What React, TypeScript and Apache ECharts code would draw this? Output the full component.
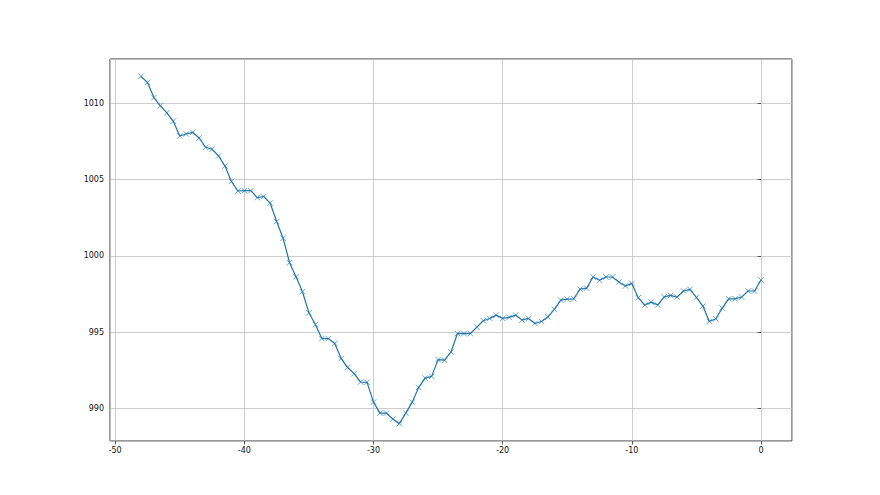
import React, { useEffect, useRef } from "react";
import * as echarts from "echarts";

const xStart = -48;
const xStep = 0.5;
const pressure = [
  1011.78, 1011.38, 1010.39, 1009.85, 1009.39, 1008.84, 1007.87, 1008.0, 1008.11, 1007.74,
  1007.13, 1007.0, 1006.56, 1005.9, 1004.89, 1004.26, 1004.28, 1004.28, 1003.83, 1003.9,
  1003.47, 1002.26, 1001.16, 999.56, 998.64, 997.65, 996.27, 995.5, 994.58, 994.58,
  994.26, 993.27, 992.68, 992.28, 991.73, 991.71, 990.41, 989.69, 989.69, 989.3,
  989.0, 989.69, 990.41, 991.38, 991.99, 992.1, 993.2, 993.16, 993.7, 994.91,
  994.91, 994.91, 995.33, 995.75, 995.9, 996.12, 995.9, 995.97, 996.12, 995.79,
  995.9, 995.57, 995.7, 996.0, 996.49, 997.1, 997.17, 997.19, 997.82, 997.89,
  998.62, 998.4, 998.62, 998.62, 998.29, 998.03, 998.2, 997.26, 996.78, 996.97,
  996.78, 997.32, 997.41, 997.3, 997.7, 997.81, 997.28, 996.71, 995.7, 995.88,
  996.58, 997.19, 997.19, 997.3, 997.7, 997.7, 998.42,
];
const xValues = pressure.map((_, i) => xStart + i * xStep);

export default function App() {
  const ref = useRef<HTMLDivElement>(null);
  useEffect(() => {
    if (!ref.current) return;
    const chart = echarts.init(ref.current, null, { renderer: "svg" });
    const data = xValues.map((x, i) => [x, pressure[i]]);
    const dataMin = Math.min(...pressure);
    const dataMax = Math.max(...pressure);
    const yPad = (dataMax - dataMin) * 0.05;
    const xMin = xValues[0];
    const xMax = xValues[xValues.length - 1];
    const xPad = (xMax - xMin) * 0.05;
    const axisColor = "#333333";
    const labelStyle = {
      color: "#111111",
      fontFamily: "DejaVu Sans",
      fontSize: 8,
      formatter: (v: number) => String(Math.round(v)),
    };
    chart.setOption({
      animation: false,
      backgroundColor: "#ffffff",
      grid: {
        left: 110,
        right: 88,
        top: 59,
        bottom: 54,
        show: true,
        borderColor: axisColor,
        borderWidth: 1,
        backgroundColor: "transparent",
      },
      xAxis: {
        type: "value",
        min: xMin - xPad,
        max: xMax + xPad,
        splitNumber: 5,
        axisLine: { show: false },
        axisTick: { show: true, length: 3.5, lineStyle: { color: axisColor, width: 0.8 } },
        axisLabel: { ...labelStyle, margin: 5, showMinLabel: false, showMaxLabel: false },
        splitLine: { show: true, lineStyle: { color: "#c2c2c2", width: 0.8 } },
      },
      yAxis: {
        type: "value",
        min: dataMin - yPad,
        max: dataMax + yPad,
        splitNumber: 5,
        axisLine: { show: false },
        axisTick: { show: true, length: 3.5, lineStyle: { color: axisColor, width: 0.8 } },
        axisLabel: { ...labelStyle, margin: 6, showMinLabel: false, showMaxLabel: false },
        splitLine: { show: true, lineStyle: { color: "#c2c2c2", width: 0.8 } },
      },
      series: [
        {
          type: "line",
          data,
          symbol: "path://M0 0L10 10M10 0L0 10",
          symbolSize: 5.5,
          showAllSymbol: true,
          lineStyle: { color: "#1f77b4", width: 1.2 },
          itemStyle: { color: "none", borderColor: "#1f77b4", borderWidth: 0.8, opacity: 0.85 },
        },
      ],
    });
    return () => chart.dispose();
  }, []);
  return (
    <div
      ref={ref}
      style={{ position: "absolute", left: 0, top: 0, width: 880, height: 495 }}
    />
  );
}
